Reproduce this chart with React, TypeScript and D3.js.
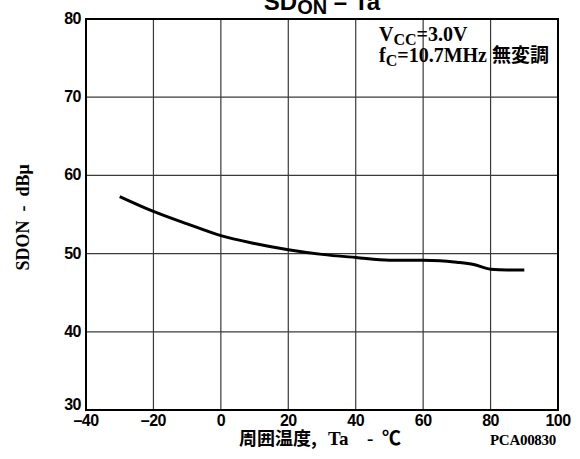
import React, { useEffect, useRef } from "react";
import * as d3 from "d3";

const temps = [-30, -20, -10, 0, 10, 20, 30, 40, 50, 60, 65, 70, 75, 80, 85, 90];
const sdOn = [57.3, 55.4, 53.8, 52.3, 51.3, 50.5, 49.9, 49.5, 49.15, 49.15, 49.1, 48.9, 48.6, 48.0, 47.9, 47.9];

const xTicks = [-40, -20, 0, 20, 40, 60, 80, 100];
const yTicks = [30, 40, 50, 60, 70, 80];

const SANS = "'Liberation Sans', Arial, sans-serif";
const SERIF = "'Liberation Serif', 'Times New Roman', 'Noto Sans CJK JP', serif";
const CJK = "'Noto Sans CJK JP', sans-serif";

function App() {
  const ref = useRef<SVGSVGElement>(null);

  useEffect(() => {
    const width = 580,
      height = 459;
    const margin = { top: 19, right: 22, bottom: 49, left: 86 };
    const w = width - margin.left - margin.right,
      h = height - margin.top - margin.bottom;

    const svg = d3.select(ref.current);
    svg.selectAll("*").remove();
    const g = svg
      .append("g")
      .attr("transform", "translate(" + margin.left + "," + margin.top + ")");

    const x = d3.scaleLinear().domain([-40, 100]).range([0, w]);
    const y = d3.scaleLinear().domain([30, 80]).range([h, 0]);

    // grid
    g.append("g")
      .selectAll("line")
      .data(xTicks.slice(1, -1))
      .enter()
      .append("line")
      .attr("x1", (d) => x(d))
      .attr("x2", (d) => x(d))
      .attr("y1", 0)
      .attr("y2", h)
      .attr("stroke", "#3a3a3a")
      .attr("stroke-width", 1.2);
    g.append("g")
      .selectAll("line")
      .data(yTicks.slice(1, -1))
      .enter()
      .append("line")
      .attr("x1", 0)
      .attr("x2", w)
      .attr("y1", (d) => y(d))
      .attr("y2", (d) => y(d))
      .attr("stroke", "#3a3a3a")
      .attr("stroke-width", 1.2);

    g.append("rect")
      .attr("width", w)
      .attr("height", h)
      .attr("fill", "none")
      .attr("stroke", "#000")
      .attr("stroke-width", 2);

    // tick labels
    g.append("g")
      .selectAll("text")
      .data(xTicks)
      .enter()
      .append("text")
      .attr("x", (d) => x(d))
      .attr("y", h + 16)
      .attr("text-anchor", "middle")
      .style("font-family", SANS)
      .style("font-weight", "bold")
      .style("font-size", "16px")
      .style("letter-spacing", "-0.5px")
      .text((d) => (d < 0 ? "\u2013" + Math.abs(d) : String(d)));

    g.append("g")
      .selectAll("text")
      .data(yTicks)
      .enter()
      .append("text")
      .attr("x", -5)
      .attr("y", (d) => y(d) + (d === 30 ? 0 : 5))
      .attr("text-anchor", "end")
      .style("font-family", SANS)
      .style("font-weight", "bold")
      .style("font-size", "16px")
      .style("letter-spacing", "-0.5px")
      .text((d) => d);

    // curve
    const line = d3
      .line<number>()
      .x((d, i) => x(temps[i]))
      .y((d) => y(d))
      .curve(d3.curveMonotoneX);
    g.append("path")
      .datum(sdOn)
      .attr("d", line)
      .attr("fill", "none")
      .attr("stroke", "#000")
      .attr("stroke-width", 3);

    // title
    const title = svg
      .append("text")
      .attr("x", margin.left + w / 2)
      .attr("y", 10)
      .attr("text-anchor", "middle")
      .style("font-family", SANS)
      .style("font-weight", "bold")
      .style("font-size", "24px");
    title.append("tspan").text("SD");
    title.append("tspan").attr("dy", 4).style("font-size", "20px").text("ON");
    title.append("tspan").attr("dy", -4).text(" \u2013 Ta");

    // conditions
    const cond = svg
      .append("text")
      .attr("x", 379)
      .attr("y", 41)
      .style("font-family", SERIF)
      .style("font-weight", "bold")
      .style("font-size", "20px");
    cond.append("tspan").text("V");
    cond.append("tspan").attr("dy", 4).style("font-size", "16px").text("CC");
    cond.append("tspan").attr("dy", -4).text("=3.0V");
    const cond2 = svg
      .append("text")
      .attr("x", 379)
      .attr("y", 62)
      .style("font-family", SERIF)
      .style("font-weight", "bold")
      .style("font-size", "20px");
    cond2.append("tspan").text("f");
    cond2.append("tspan").attr("dy", 4).style("font-size", "16px").text("C");
    cond2.append("tspan").attr("dy", -4).text("=10.7MHz ");
    cond2
      .append("tspan")
      .style("font-family", CJK)
      .style("font-size", "19px")
      .text("無変調");

    // axis titles
    const yl = svg
      .append("text")
      .attr("transform", "translate(29," + (margin.top + h / 2 + 3) + ") rotate(-90)")
      .attr("text-anchor", "middle")
      .style("font-family", SERIF)
      .style("font-weight", "bold")
      .style("font-size", "18px")
      .style("white-space", "pre");
    yl.append("tspan").text("SDON  -  dBμ");

    const xl = svg
      .append("text")
      .attr("y", 445)
      .style("font-family", SERIF)
      .style("font-weight", "bold")
      .style("font-size", "19px");
    xl.append("tspan")
      .attr("x", 239)
      .style("font-family", CJK)
      .style("font-size", "18px")
      .text("周囲温度,");
    xl.append("tspan").attr("x", 328).text("Ta");
    xl.append("tspan").attr("x", 367).text("-");
    xl.append("tspan").attr("x", 382).text("℃");

    svg
      .append("text")
      .attr("x", 490)
      .attr("y", 445)
      .style("font-family", SERIF)
      .style("font-weight", "bold")
      .style("font-size", "15px")
      .style("letter-spacing", "-0.3px")
      .text("PCA00830");
  }, []);

  return (
    <svg
      ref={ref}
      width={580}
      height={459}
      style={{ position: "absolute", left: 0, top: 0, background: "#fff" }}
    />
  );
}

export default App;
